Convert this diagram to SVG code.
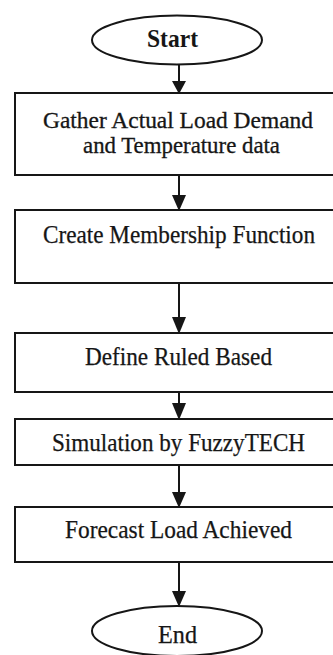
<svg xmlns="http://www.w3.org/2000/svg" width="333" height="655" viewBox="0 0 333 655">
  <defs>
    <style>
      .shape { fill: #ffffff; stroke: #161616; stroke-width: 2; }
      .label { font-family: "Liberation Serif", "Times New Roman", serif; font-size: 24.5px; fill: #161616; stroke: #161616; stroke-width: 0.25; text-anchor: middle; }
      .pair { font-size: 22.5px; stroke-width: 0.3; }
      .bold { font-weight: bold; stroke-width: 0; }
      .wire { stroke: #161616; stroke-width: 2; fill: none; }
      .head { fill: #161616; stroke: none; }
    </style>
  </defs>
  <rect width="333" height="655" fill="#ffffff"/>

  <!-- connectors between the steps -->
  <g id="connectors">
    <line class="wire" x1="179" y1="65" x2="179" y2="84"/>
    <polygon class="head" points="172,81 186,81 179,94"/>
    <line class="wire" x1="179" y1="175" x2="179" y2="198"/>
    <polygon class="head" points="172,195 186,195 179,211"/>
    <line class="wire" x1="179" y1="283" x2="179" y2="320"/>
    <polygon class="head" points="172,317 186,317 179,334"/>
    <line class="wire" x1="179" y1="392" x2="179" y2="406"/>
    <polygon class="head" points="172,403 186,403 179,420"/>
    <line class="wire" x1="179" y1="465" x2="179" y2="495"/>
    <polygon class="head" points="172,492 186,492 179,508"/>
    <line class="wire" x1="179" y1="562" x2="179" y2="594"/>
    <polygon class="head" points="172,591 186,591 179,607"/>
  </g>

  <g id="start">
    <ellipse class="shape" cx="177" cy="40" rx="85" ry="24.5"/>
    <text class="label bold" x="172.5" y="47" textLength="51" lengthAdjust="spacingAndGlyphs">Start</text>
  </g>

  <g id="gather">
    <rect class="shape" x="15" y="93" width="340" height="82"/>
    <text class="label pair" x="178" y="127.5" textLength="270" lengthAdjust="spacingAndGlyphs">Gather Actual Load Demand</text>
    <text class="label pair" x="181.5" y="152.5" textLength="197" lengthAdjust="spacingAndGlyphs">and Temperature data</text>
  </g>

  <g id="membership">
    <rect class="shape" x="15" y="210" width="340" height="73"/>
    <text class="label" x="179" y="243" textLength="272" lengthAdjust="spacingAndGlyphs">Create Membership Function</text>
  </g>

  <g id="rules">
    <rect class="shape" x="15" y="333" width="340" height="59"/>
    <text class="label" x="178.5" y="365" textLength="187" lengthAdjust="spacingAndGlyphs">Define Ruled Based</text>
  </g>

  <g id="simulation">
    <rect class="shape" x="15" y="419" width="340" height="46"/>
    <text class="label" x="178.5" y="451" textLength="253" lengthAdjust="spacingAndGlyphs">Simulation by FuzzyTECH</text>
  </g>

  <g id="forecast">
    <rect class="shape" x="15" y="507" width="340" height="55"/>
    <text class="label" x="178.5" y="538" textLength="227" lengthAdjust="spacingAndGlyphs">Forecast Load Achieved</text>
  </g>

  <g id="end">
    <ellipse class="shape" cx="177" cy="631" rx="85" ry="25"/>
    <text class="label" x="177.5" y="643" textLength="39" lengthAdjust="spacingAndGlyphs">End</text>
  </g>
</svg>
